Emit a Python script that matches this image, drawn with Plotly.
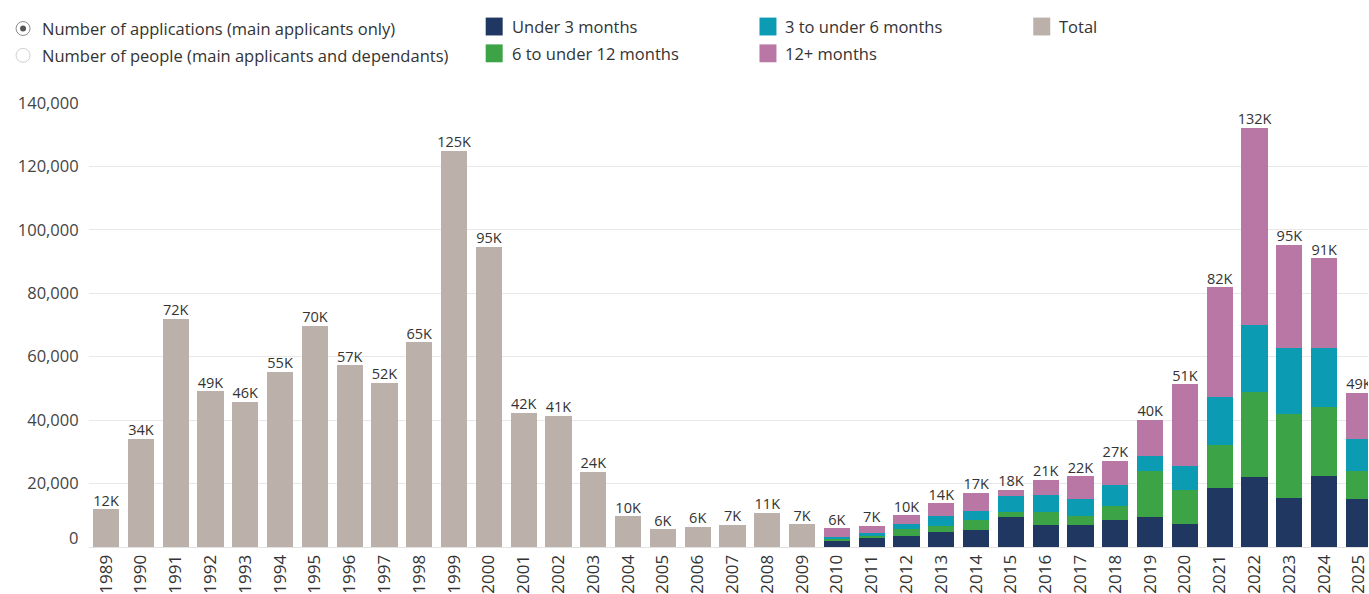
import plotly.graph_objects as go

years = [str(y) for y in range(1989, 2026)]

# Totals only (1989-2009); None where breakdown is available
total_only = [11900, 34100, 72000, 49100, 45800, 55200, 69800, 57300, 51700, 64600,
              125000, 94600, 42300, 41300, 23700, 9700, 5600, 6400, 6900, 10800, 7100] + [None] * 16

pad = [None] * 21
under3 = pad + [2200, 3000, 3450, 4700, 5500, 9400, 6800, 6900, 8600, 9400, 7300, 18600, 22100, 15500, 22400, 15000]
m6to12 = pad + [500, 500, 2100, 2000, 3000, 1700, 4100, 3000, 4400, 14600, 10800, 13700, 26900, 26300, 21900, 9100]
m3to6 = pad + [300, 1000, 1800, 3100, 3000, 4900, 5600, 5200, 6500, 4800, 7400, 15100, 21100, 21100, 18500, 9900]
m12plus = pad + [2900, 2200, 2600, 4000, 5600, 2100, 4700, 7200, 7600, 11300, 25800, 34500, 62000, 32400, 28200, 14600]

series_names = ["Under 3 months", "6 to under 12 months", "3 to under 6 months", "12+ months", "Total"]
colors = {"Under 3 months": "#1f3761", "6 to under 12 months": "#3ca346",
          "3 to under 6 months": "#0b9bb2", "12+ months": "#b977a5", "Total": "#bbb0aa"}
radio_labels = ["Number of applications (main applicants only)",
                "Number of people (main applicants and dependants)"]

totals = []
for i in range(len(years)):
    if total_only[i] is not None:
        totals.append(total_only[i])
    else:
        totals.append(under3[i] + m6to12[i] + m3to6[i] + m12plus[i])
labels = [f"{round(v / 1000)}K" for v in totals]

W, H = 1369, 594
L, R, T, B = 89, 0, 103, 44
PH = H - T - B
PW = W - L - R

def px(x):  # viewport pixel -> paper
    return (x - L) / PW

def py(y):
    return (T + PH - y) / PH

FONT = "Open Sans"
fig = go.Figure()
data_map = {"Under 3 months": under3, "6 to under 12 months": m6to12,
            "3 to under 6 months": m3to6, "12+ months": m12plus, "Total": total_only}
for name in series_names:
    fig.add_trace(go.Bar(x=years, y=data_map[name], name=name,
                         marker=dict(color=colors[name], line=dict(width=0)),
                         showlegend=False, hoverinfo="x+y+name"))

fig.add_trace(go.Scatter(x=years, y=totals, mode="text", text=labels,
                         textposition="top center",
                         textfont=dict(family=FONT, size=14.5, color="#333333"),
                         showlegend=False, hoverinfo="skip"))

shapes = []
annotations = []

# Radio buttons
for k, (lab, yy) in enumerate(zip(radio_labels, [28, 55])):
    r = 7
    cx = 23
    shapes.append(dict(type="circle", xref="paper", yref="paper",
                       x0=px(cx - r), x1=px(cx + r), y0=py(yy + r), y1=py(yy - r),
                       line=dict(color="#8a8a8a" if k == 0 else "#d0d0d0", width=1),
                       fillcolor="white"))
    if k == 0:
        r2 = 3
        shapes.append(dict(type="circle", xref="paper", yref="paper",
                           x0=px(cx - r2), x1=px(cx + r2), y0=py(yy + r2), y1=py(yy - r2),
                           line=dict(width=0), fillcolor="#555555"))
    annotations.append(dict(text=lab, xref="paper", yref="paper", x=px(40), y=py(yy),
                            xanchor="left", yanchor="middle", showarrow=False,
                            font=dict(family=FONT, size=16.5, color="#333333")))

# Legend
legend_pos = {"Under 3 months": (486, 26), "6 to under 12 months": (486, 53),
              "3 to under 6 months": (760, 26), "12+ months": (760, 53), "Total": (1034, 26)}
for name in series_names:
    lx, ly = legend_pos[name]
    shapes.append(dict(type="rect", xref="paper", yref="paper",
                       x0=px(lx), x1=px(lx + 17), y0=py(ly + 9), y1=py(ly - 9),
                       line=dict(width=0), fillcolor=colors[name]))
    annotations.append(dict(text=name, xref="paper", yref="paper", x=px(lx + 24), y=py(ly),
                            xanchor="left", yanchor="middle", showarrow=False,
                            font=dict(family=FONT, size=16.5, color="#333333")))

# y "0" label (drawn slightly above baseline as in reference)
annotations.append(dict(text="0", xref="paper", yref="paper", x=px(80), y=py(540),
                        xanchor="right", yanchor="middle", showarrow=False,
                        font=dict(family=FONT, size=16.5, color="#444444")))

tickvals = [20000, 40000, 60000, 80000, 100000, 120000, 140000]
ticktext = [f"{v:,}" for v in tickvals]

fig.update_layout(
    width=W, height=H, barmode="stack", bargap=0.25,
    margin=dict(l=L, r=R, t=T, b=B, pad=0),
    plot_bgcolor="white", paper_bgcolor="white",
    font=dict(family=FONT, color="#444444"),
    shapes=shapes, annotations=annotations,
    xaxis=dict(type="category", range=[-0.49, 36.26], tickangle=-90,
               tickfont=dict(family=FONT, size=17, color="#333333"),
               showgrid=False, ticks="",
               showline=True, linecolor="#e2e2e2", linewidth=1),
    yaxis=dict(range=[0, 140000], tickvals=tickvals, ticktext=ticktext,
               tickfont=dict(family=FONT, size=16.5, color="#444444"),
               showgrid=True, gridcolor="#e8e8e8", gridwidth=1,
               zeroline=False, ticks="outside", ticklen=6, tickcolor="rgba(0,0,0,0)"),
)

fig.write_html("out.html", config={"displayModeBar": False},
               post_script="document.body.style.margin='0';document.body.style.overflow='hidden';")
